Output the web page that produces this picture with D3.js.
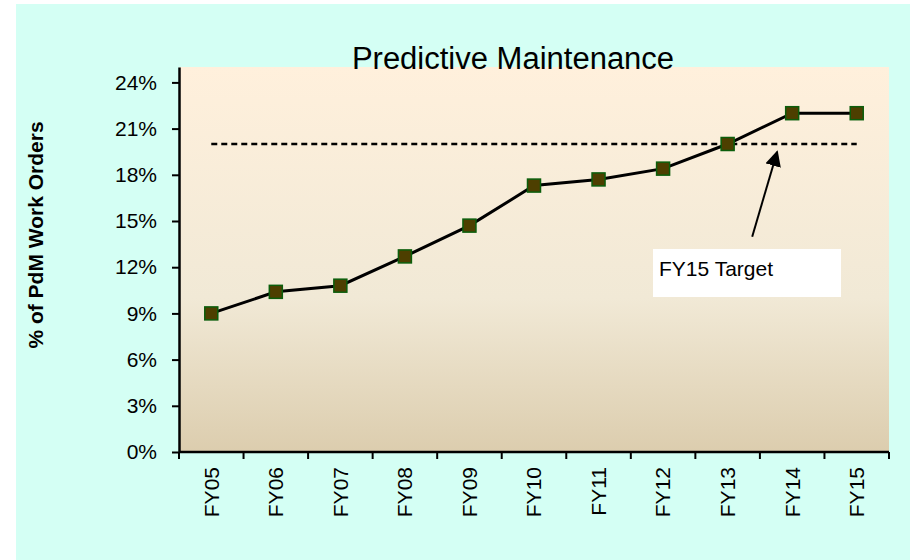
<!DOCTYPE html>
<html>

<head>
    <meta charset="utf-8">
    <title>Predictive Maintenance</title>
    <script src="https://d3js.org/d3.v7.min.js"></script>
    <style>
        body {
            margin: 0;
            background: #fff;
        }

        text {
            font-family: "Liberation Sans", Arial, sans-serif;
        }
    </style>
</head>

<body>
    <svg width="910" height="560"></svg>

    <script>
        // data
        const years = ["FY05", "FY06", "FY07", "FY08", "FY09", "FY10", "FY11", "FY12", "FY13", "FY14", "FY15"];
        const pdmShare = [0.090, 0.104, 0.108, 0.127, 0.147, 0.173, 0.177, 0.184, 0.200, 0.220, 0.220];
        const target = 0.20;
        const yTicks = [0, 0.03, 0.06, 0.09, 0.12, 0.15, 0.18, 0.21, 0.24];

        const svg = d3.select("svg");

        // plot area
        const plotL = 179, plotR = 889, plotT = 67, plotB = 452;

        const x = d3.scaleBand().domain(years).range([plotL, plotR]).padding(0);
        const y = d3.scaleLinear().domain([0, 0.25]).range([plotB, plotT]);
        const cx = d => x(d) + x.bandwidth() / 2;

        // outer background
        svg.append("rect")
            .attr("x", 16).attr("y", 4)
            .attr("width", 894).attr("height", 556)
            .attr("fill", "#d4fff4");

        // plot gradient
        const defs = svg.append("defs");
        const grad = defs.append("linearGradient")
            .attr("id", "plotBg")
            .attr("x1", 0).attr("y1", 0).attr("x2", 0).attr("y2", 1);
        grad.append("stop").attr("offset", "0%").attr("stop-color", "#fff0dc");
        grad.append("stop").attr("offset", "60%").attr("stop-color", "#f1e9d6");
        grad.append("stop").attr("offset", "100%").attr("stop-color", "#dccdae");

        svg.append("rect")
            .attr("x", plotL).attr("y", plotT)
            .attr("width", plotR - plotL).attr("height", plotB - plotT)
            .attr("fill", "url(#plotBg)");

        // title
        svg.append("text")
            .attr("x", 513).attr("y", 69)
            .attr("text-anchor", "middle")
            .style("font-size", "31px")
            .text("Predictive Maintenance");

        // y axis
        const yAxis = svg.append("g")
            .attr("transform", `translate(${plotL},0)`)
            .call(d3.axisLeft(y)
                .tickValues(yTicks)
                .tickFormat(d3.format(".0%"))
                .tickSize(7)
                .tickSizeOuter(0)
                .tickPadding(15));
        yAxis.selectAll("text").style("font-size", "21px").attr("fill", "#000");
        yAxis.selectAll("line").attr("stroke", "#000").attr("stroke-width", 2);
        yAxis.select(".domain").attr("stroke", "#000").attr("stroke-width", 2.5);

        // y title
        svg.append("text")
            .attr("transform", "translate(43,235) rotate(-90)")
            .attr("text-anchor", "middle")
            .style("font-size", "21px")
            .style("font-weight", "bold")
            .text("% of PdM Work Orders");

        // x axis line and boundary ticks
        svg.append("line")
            .attr("x1", plotL).attr("x2", plotR)
            .attr("y1", plotB).attr("y2", plotB)
            .attr("stroke", "#000").attr("stroke-width", 2.5);

        const bounds = years.map(d => x(d)).concat([x(years[years.length - 1]) + x.bandwidth()]);
        svg.selectAll(".xtick")
            .data(bounds)
            .enter()
            .append("line")
            .attr("class", "xtick")
            .attr("x1", d => d).attr("x2", d => d)
            .attr("y1", plotB).attr("y2", plotB + 7)
            .attr("stroke", "#000").attr("stroke-width", 2);

        svg.selectAll(".xlabel")
            .data(years)
            .enter()
            .append("text")
            .attr("class", "xlabel")
            .attr("transform", d => `translate(${cx(d)},${plotB + 15}) rotate(-90)`)
            .attr("text-anchor", "end")
            .attr("dy", "0.35em")
            .style("font-size", "21px")
            .text(d => d);

        // target line
        svg.append("line")
            .attr("x1", cx(years[0])).attr("x2", cx(years[years.length - 1]))
            .attr("y1", y(target)).attr("y2", y(target))
            .attr("stroke", "#000")
            .attr("stroke-width", 2.5)
            .attr("stroke-dasharray", "6,4");

        // data line
        const line = d3.line()
            .x((d, i) => cx(years[i]))
            .y(d => y(d));

        svg.append("path")
            .datum(pdmShare)
            .attr("d", line)
            .attr("fill", "none")
            .attr("stroke", "#000")
            .attr("stroke-width", 3);

        // markers
        svg.selectAll(".marker")
            .data(pdmShare)
            .enter()
            .append("rect")
            .attr("class", "marker")
            .attr("x", (d, i) => cx(years[i]) - 6.5)
            .attr("y", d => y(d) - 6.5)
            .attr("width", 13)
            .attr("height", 13)
            .attr("fill", "#4d3f00")
            .attr("stroke", "#0b5e0b")
            .attr("stroke-width", 1.5);

        // annotation arrow and label
        const tipX = cx("FY14") - 15, tipY = y(0.195);
        const tailX = tipX - 25, tailY = tipY + 85;
        defs.append("marker")
            .attr("id", "arrow")
            .attr("viewBox", "0 0 10 10")
            .attr("refX", 9).attr("refY", 5)
            .attr("markerWidth", 8).attr("markerHeight", 8)
            .attr("markerUnits", "strokeWidth")
            .attr("orient", "auto")
            .append("path")
            .attr("d", "M0,0L10,5L0,10Z")
            .attr("fill", "#000");

        svg.append("line")
            .attr("x1", tailX).attr("y1", tailY)
            .attr("x2", tipX).attr("y2", tipY)
            .attr("stroke", "#000")
            .attr("stroke-width", 2)
            .attr("marker-end", "url(#arrow)");

        svg.append("rect")
            .attr("x", 653).attr("y", 249)
            .attr("width", 188).attr("height", 48)
            .attr("fill", "#fff");

        svg.append("text")
            .attr("x", 659).attr("y", 276)
            .style("font-size", "21px")
            .text("FY15 Target");
    </script>
</body>

</html>
